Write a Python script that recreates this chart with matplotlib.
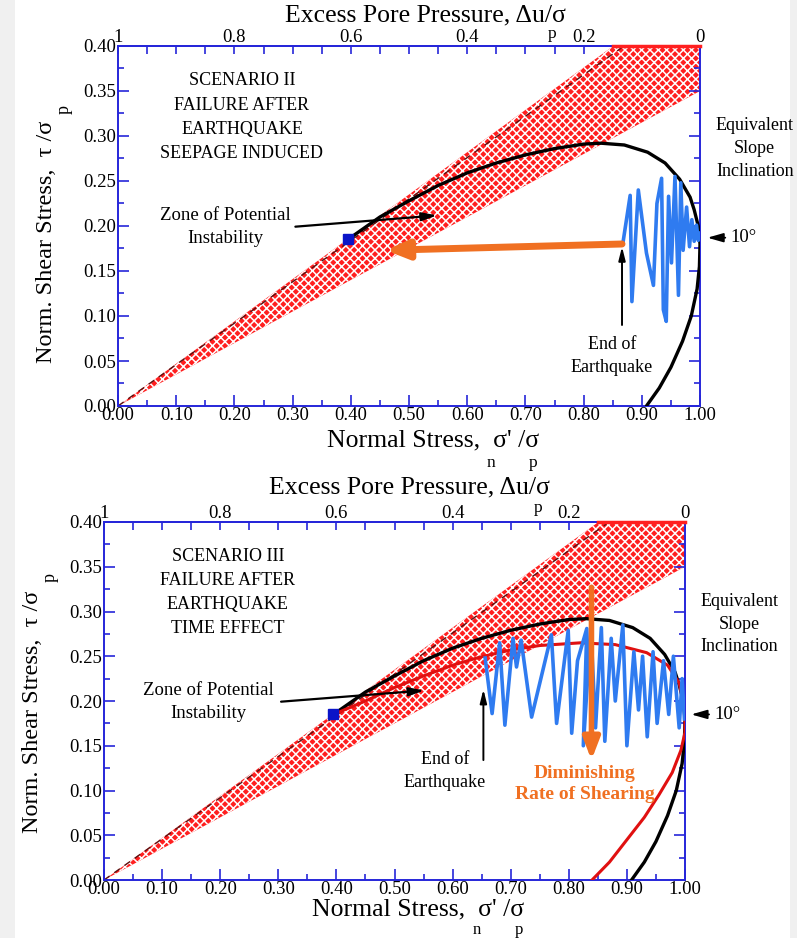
import matplotlib
matplotlib.use("Agg")
import matplotlib.pyplot as plt
from matplotlib.ticker import MultipleLocator, FormatStrFormatter
from matplotlib.patches import Rectangle

plt.rcParams["font.family"] = ["Liberation Serif", "DejaVu Serif"]
plt.rcParams["hatch.linewidth"] = 1.1
plt.rcParams["hatch.color"] = "white"

W, H = 797, 938

# Failure envelope band (shear/normal ratio) and the mobilised line inside it
band_lower_slope = 0.35
band_upper_slope = 0.47
envelope_mid_slope = 0.46
tau_max = 0.40

# Effective stress path (normal stress, shear stress)
path_sn = [0.908, 0.93, 0.95, 0.97, 0.985, 0.995, 0.999, 1.0, 0.997, 0.99, 0.983,
           0.965, 0.94, 0.91, 0.87, 0.83, 0.80, 0.75, 0.70, 0.65, 0.60, 0.55,
           0.50, 0.45, 0.395]
path_tau = [0.0, 0.02, 0.043, 0.072, 0.10, 0.13, 0.155, 0.18, 0.20, 0.218, 0.232,
            0.252, 0.27, 0.282, 0.29, 0.292, 0.291, 0.286, 0.279, 0.27, 0.259,
            0.245, 0.228, 0.21, 0.185]

# Stress path at reduced rate of shearing (Scenario III)
slow_sn = [0.84, 0.87, 0.90, 0.93, 0.955, 0.978, 0.993, 1.0, 1.0, 0.99, 0.97,
           0.934, 0.88, 0.82, 0.75, 0.70, 0.647, 0.60, 0.55, 0.50, 0.45, 0.395]
slow_tau = [0.0, 0.02, 0.045, 0.07, 0.095, 0.12, 0.145, 0.165, 0.19, 0.22, 0.24,
            0.254, 0.263, 0.265, 0.262, 0.257, 0.249, 0.24, 0.228, 0.215, 0.20, 0.185]

# Cyclic shear during the earthquake
quake2_sn = [0.868, 0.880, 0.883, 0.894, 0.908, 0.920, 0.926, 0.934, 0.937, 0.942,
             0.946, 0.951, 0.957, 0.963, 0.967, 0.971, 0.977, 0.982, 0.986, 0.990,
             0.994, 0.997, 1.0]
quake2_tau = [0.183, 0.234, 0.116, 0.240, 0.170, 0.134, 0.225, 0.253, 0.107, 0.094,
              0.233, 0.159, 0.255, 0.123, 0.248, 0.173, 0.221, 0.177, 0.207, 0.183,
              0.201, 0.184, 0.192]

quake3_sn = [0.656, 0.668, 0.681, 0.690, 0.704, 0.710, 0.718, 0.736, 0.770, 0.779,
             0.799, 0.805, 0.815, 0.831, 0.825, 0.838, 0.846, 0.856, 0.862, 0.873,
             0.880, 0.893, 0.900, 0.912, 0.920, 0.927, 0.935, 0.945, 0.952, 0.963,
             0.972, 0.980, 0.990, 0.995, 0.999]
quake3_tau = [0.248, 0.186, 0.265, 0.173, 0.270, 0.238, 0.268, 0.182, 0.274, 0.175,
              0.279, 0.164, 0.245, 0.281, 0.150, 0.282, 0.170, 0.282, 0.155, 0.270,
              0.200, 0.285, 0.150, 0.255, 0.190, 0.250, 0.160, 0.255, 0.175, 0.245,
              0.185, 0.250, 0.170, 0.225, 0.180]

# Point of potential instability
instab_sn, instab_tau = 0.395, 0.185

x_ticks = [0.0, 0.1, 0.2, 0.3, 0.4, 0.5, 0.6, 0.7, 0.8, 0.9, 1.0]
pore_ticks = [0.0, 0.2, 0.4, 0.6, 0.8, 1.0]
pore_labels = ["0", "0.2", "0.4", "0.6", "0.8", "1"]

BLUE_AX = "#2626d9"
BAND_RED = "#ff1f1f"
ORANGE = "#f07022"
QUAKE_BLUE = "#2f7bf0"

LABEL_FS = 18.5
TICK_FS = 13.5
NOTE_FS = 13.5


def fig_text(fig, px, py, s, **kw):
    fig.text(px / W, 1 - py / H, s, **kw)


def frame(ax):
    ax.set_xlim(0, 1)
    ax.set_ylim(0, 0.4)
    ax.set_xticks(x_ticks)
    ax.xaxis.set_minor_locator(MultipleLocator(0.05))
    ax.yaxis.set_major_locator(MultipleLocator(0.05))
    ax.yaxis.set_minor_locator(MultipleLocator(0.025))
    ax.xaxis.set_major_formatter(FormatStrFormatter("%.2f"))
    ax.yaxis.set_major_formatter(FormatStrFormatter("%.2f"))
    ax.tick_params(which="major", direction="in", length=8, width=1.2,
                   color=BLUE_AX, labelsize=TICK_FS, right=True, top=False, pad=1)
    ax.tick_params(which="minor", direction="in", length=4, width=1.2,
                   color=BLUE_AX, right=True, top=False)
    for sp in ax.spines.values():
        sp.set_color(BLUE_AX)
        sp.set_linewidth(1.4)
    sec = ax.secondary_xaxis("top", functions=(lambda v: 1 - v, lambda v: 1 - v))
    sec.set_xticks(pore_ticks)
    sec.set_xticklabels(pore_labels)
    sec.xaxis.set_minor_locator(MultipleLocator(0.05))
    sec.tick_params(which="both", direction="in", length=6, width=1.2,
                    color=BLUE_AX, labelsize=TICK_FS, pad=0)
    sec.spines["top"].set_color(BLUE_AX)
    sec.spines["top"].set_linewidth(1.4)


def band(ax):
    xs = [i / 200 for i in range(201)]
    lo = [band_lower_slope * v for v in xs]
    hi = [min(band_upper_slope * v, tau_max) for v in xs]
    ax.fill_between(xs, lo, hi, facecolor=BAND_RED, edgecolor="white",
                    hatch="xxxx", linewidth=0, zorder=1)
    xm = [v for v in xs if envelope_mid_slope * v <= tau_max]
    ax.plot(xm, [envelope_mid_slope * v for v in xm], color="#5a1010", lw=1.0,
            ls=(0, (5, 4)), zorder=2)
    ax.plot([tau_max / band_upper_slope, 1.0], [tau_max, tau_max], color=BAND_RED,
            lw=2.5, zorder=5, clip_on=False)


def common_text(ax, scenario_lines, zone_xy, zone_arrow, eq_xy):
    ax.text(0.213, 0.321, "\n".join(scenario_lines), ha="center", va="center",
            fontsize=13, linespacing=1.55)
    ax.text(zone_xy[0], zone_xy[1], "Zone of Potential\nInstability", ha="center",
            va="center", fontsize=NOTE_FS, linespacing=1.45)
    ax.annotate("", xy=zone_arrow[1], xytext=zone_arrow[0],
                arrowprops=dict(arrowstyle="-|>,head_length=0.9,head_width=0.25",
                                color="black", lw=1.6), zorder=8)
    ax.text(1.094, 0.286, "Equivalent\nSlope\nInclination", ha="center", va="center",
            fontsize=13, linespacing=1.45, transform=ax.transData, clip_on=False)
    ax.annotate("10°", xy=(eq_xy[0], eq_xy[1]), xytext=(eq_xy[0] + 0.045, eq_xy[1]),
                ha="left", va="center", fontsize=13.5,
                arrowprops=dict(arrowstyle="-|>,head_length=0.7,head_width=0.2",
                                color="black", lw=1.3), annotation_clip=False)
    ax.plot([instab_sn], [instab_tau], marker="s", ms=7, color="#0a14c8",
            mec="#0a14c8", zorder=9, ls="none")


fig = plt.figure(figsize=(W / 100, H / 100), dpi=100)
fig.patch.set_facecolor("white")
fig.add_artist(Rectangle((0, 0), 15 / W, 1, transform=fig.transFigure,
                         facecolor="#f0f0f0", edgecolor="none", zorder=-10))
fig.add_artist(Rectangle((790 / W, 0), 7 / W, 1, transform=fig.transFigure,
                         facecolor="#f0f0f0", edgecolor="none", zorder=-10))

# ---------------- Scenario II ----------------
ax1 = fig.add_axes([118 / W, 1 - 406 / H, 582 / W, 360 / H])
frame(ax1)
band(ax1)
ax1.plot(path_sn, path_tau, color="black", lw=2.4, zorder=4, solid_capstyle="round")
ax1.plot(quake2_sn, quake2_tau, color=QUAKE_BLUE, lw=2.6, zorder=5)
ax1.annotate("", xy=(0.46, 0.173), xytext=(0.866, 0.180),
             arrowprops=dict(arrowstyle="-|>,head_length=1.3,head_width=0.55",
                             color=ORANGE, lw=5, shrinkA=0, shrinkB=0), zorder=7)
ax1.annotate("", xy=(0.866, 0.177), xytext=(0.866, 0.09),
             arrowprops=dict(arrowstyle="-|>,head_length=0.8,head_width=0.2",
                             color="black", lw=1.4, shrinkA=0, shrinkB=0), zorder=7)
ax1.text(0.849, 0.056, "End of\nEarthquake", ha="center", va="center", fontsize=13,
         linespacing=1.45)
common_text(ax1, ["SCENARIO II", "FAILURE AFTER", "EARTHQUAKE", "SEEPAGE INDUCED"],
            (0.184, 0.199), ((0.30, 0.199), (0.553, 0.212)), (1.008, 0.187))

fig_text(fig, 425, 15, "Excess Pore Pressure, Δu/σ", ha="center", va="center",
         fontsize=LABEL_FS)
fig_text(fig, 552, 34, "p", ha="center", va="center", fontsize=12.5)
fig_text(fig, 433, 440, "Normal Stress,  σ' /σ", ha="center", va="center",
         fontsize=LABEL_FS)
fig_text(fig, 491, 463, "n", ha="center", va="center", fontsize=12.5)
fig_text(fig, 533, 463, "p", ha="center", va="center", fontsize=12.5)
fig_text(fig, 47, 242, "Norm. Shear Stress,  τ /σ", ha="center", va="center",
         fontsize=17.5, rotation=90)
fig_text(fig, 64, 110, "p", ha="center", va="center", fontsize=13, rotation=90)

# ---------------- Scenario III ----------------
ax2 = fig.add_axes([104 / W, 1 - 880 / H, 581 / W, 358 / H])
frame(ax2)
band(ax2)
ax2.plot(path_sn, path_tau, color="black", lw=2.4, zorder=4)
ax2.plot(slow_sn, slow_tau, color="#e01010", lw=2.2, zorder=4)
ax2.plot(quake3_sn, quake3_tau, color=QUAKE_BLUE, lw=2.6, zorder=5)
ax2.annotate("", xy=(0.839, 0.134), xytext=(0.839, 0.327),
             arrowprops=dict(arrowstyle="-|>,head_length=1.3,head_width=0.5",
                             color=ORANGE, lw=4, shrinkA=0, shrinkB=0), zorder=7)
ax2.text(0.827, 0.107, "Diminishing\nRate of Shearing", ha="center", va="center",
         fontsize=14, fontweight="bold", color=ORANGE, linespacing=1.3, zorder=8)
ax2.annotate("", xy=(0.653, 0.213), xytext=(0.653, 0.134),
             arrowprops=dict(arrowstyle="-|>,head_length=0.8,head_width=0.2",
                             color="black", lw=1.4, shrinkA=0, shrinkB=0), zorder=7)
ax2.text(0.587, 0.122, "End of\nEarthquake", ha="center", va="center", fontsize=13,
         linespacing=1.45)
common_text(ax2, ["SCENARIO III", "FAILURE AFTER", "EARTHQUAKE", "TIME EFFECT"],
            (0.179, 0.199), ((0.30, 0.199), (0.556, 0.212)), (1.006, 0.185))

fig_text(fig, 409, 487, "Excess Pore Pressure, Δu/σ", ha="center", va="center",
         fontsize=LABEL_FS)
fig_text(fig, 538, 508, "p", ha="center", va="center", fontsize=12.5)
fig_text(fig, 418, 909, "Normal Stress,  σ' /σ", ha="center", va="center",
         fontsize=LABEL_FS)
fig_text(fig, 477, 930, "n", ha="center", va="center", fontsize=12)
fig_text(fig, 519, 930, "p", ha="center", va="center", fontsize=12)
fig_text(fig, 33, 712, "Norm. Shear Stress,  τ /σ", ha="center", va="center",
         fontsize=17.5, rotation=90)
fig_text(fig, 50, 577, "p", ha="center", va="center", fontsize=13, rotation=90)

fig.savefig("out.png", dpi=100)
